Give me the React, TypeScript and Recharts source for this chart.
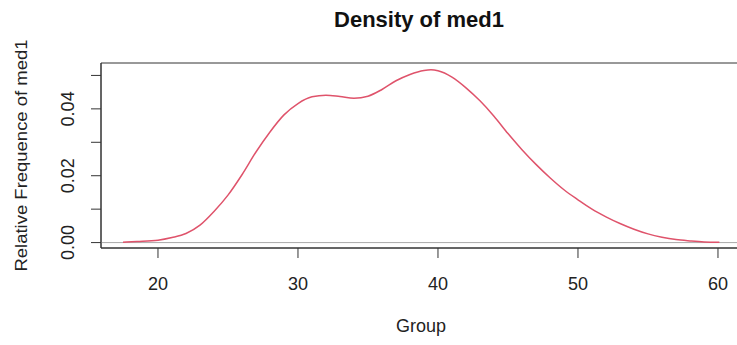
import React from "react";
import {
  LineChart,
  Line,
  XAxis,
  YAxis,
  ReferenceLine,
  ReferenceArea,
} from "recharts";

// kernel density estimate of med1
const GROUP = [
  17.5, 18.5, 20, 21, 22, 23, 24, 25, 26, 27, 28, 29, 30, 31, 32, 33, 34, 35,
  36, 37, 38, 39, 39.5, 40, 41, 42, 43, 44, 45, 46, 47, 48, 49, 50, 51, 52, 53,
  54, 55, 56, 57, 58, 59, 60.1,
];
const DENSITY = [
  0.0001, 0.0003, 0.0007, 0.0015, 0.0027, 0.0052, 0.0093, 0.0142, 0.0203,
  0.0271, 0.0331, 0.0382, 0.0416, 0.0436, 0.0441, 0.0437, 0.0432, 0.0438,
  0.0458, 0.0484, 0.0503, 0.0515, 0.0517, 0.0514, 0.0495, 0.0463, 0.0424,
  0.0378, 0.0326, 0.0278, 0.0234, 0.0194, 0.0158, 0.0128, 0.01, 0.0077,
  0.0057, 0.004, 0.0026, 0.0016, 0.0009, 0.0005, 0.0002, 0.0001,
];
const X_TICKS = [20, 30, 40, 50, 60];
const Y_TICKS = [0, 0.01, 0.02, 0.03, 0.04, 0.05];
const Y_LABELS = ["0.00", "", "0.02", "", "0.04", ""];

const X_DOMAIN: [number, number] = [15.93, 61.43];
const Y_DOMAIN: [number, number] = [-0.00162, 0.05372];

const FONT = "'Liberation Sans', Arial, Helvetica, sans-serif";
const INK = "#222";
const LINE_RED = "#DF536B";

const data = GROUP.map((g, i) => ({ group: g, density: DENSITY[i] }));

function XTick(props: any) {
  const { x, y, payload } = props;
  return (
    <text x={x} y={y + 32} textAnchor="middle" fontSize={18} fill={INK} fontFamily={FONT}>
      {payload.value}
    </text>
  );
}

function YTick(props: any) {
  const { x, y, index } = props;
  const label = Y_LABELS[index];
  if (!label) return null;
  const bx = x - 17;
  return (
    <text
      x={bx}
      y={y}
      transform={`rotate(-90, ${bx}, ${y})`}
      textAnchor="middle"
      fontSize={18}
      fill={INK}
      fontFamily={FONT}
    >
      {label}
    </text>
  );
}

export default function App() {
  return (
    <div
      style={{
        position: "absolute",
        left: 0,
        top: 0,
        width: 737,
        height: 345,
        overflow: "hidden",
        background: "#fff",
      }}
    >
      <LineChart
        width={740}
        height={345}
        data={data}
        margin={{ top: 63, right: 2, bottom: 57, left: 41 }}
      >
        <XAxis
          dataKey="group"
          type="number"
          domain={X_DOMAIN}
          ticks={X_TICKS}
          allowDataOverflow
          height={40}
          tickSize={10}
          tickMargin={0}
          stroke="#333"
          tick={<XTick />}
        />
        <YAxis
          type="number"
          domain={Y_DOMAIN}
          ticks={Y_TICKS}
          allowDataOverflow
          width={60}
          tickSize={10}
          tickMargin={0}
          stroke="#333"
          tick={<YTick />}
        />
        <ReferenceArea
          x1={X_DOMAIN[0]}
          x2={X_DOMAIN[1]}
          y1={Y_DOMAIN[0]}
          y2={Y_DOMAIN[1]}
          fill="none"
          stroke="#333"
          strokeWidth={1}
          ifOverflow="visible"
        />
        <ReferenceLine y={0} stroke="#aaa" strokeWidth={1} />
        <Line
          type="monotone"
          dataKey="density"
          stroke={LINE_RED}
          strokeWidth={1.5}
          dot={false}
          isAnimationActive={false}
        />
      </LineChart>
      <svg
        width={737}
        height={345}
        style={{ position: "absolute", left: 0, top: 0, pointerEvents: "none" }}
      >
        <text x={419} y={27} textAnchor="middle" fontSize={22} fontWeight="bold" fill="#111" fontFamily={FONT}>
          Density of med1
        </text>
        <text x={421} y={332} textAnchor="middle" fontSize={18} fill={INK} fontFamily={FONT}>
          Group
        </text>
        <text
          x={27}
          y={155.5}
          transform="rotate(-90, 27, 155.5)"
          textAnchor="middle"
          fontSize={17}
          textLength={232}
          lengthAdjust="spacingAndGlyphs"
          fill={INK}
          fontFamily={FONT}
        >
          Relative Frequence of med1
        </text>
      </svg>
    </div>
  );
}
